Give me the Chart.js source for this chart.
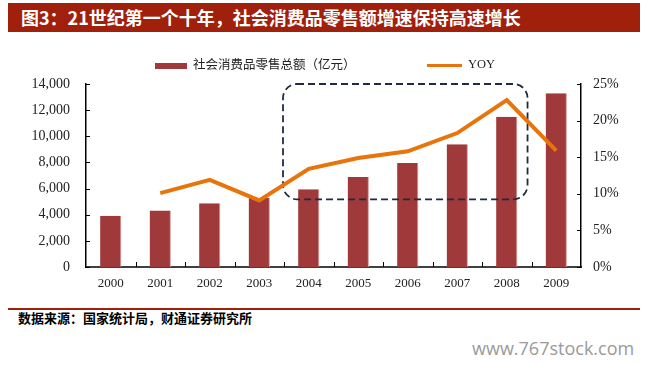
<!DOCTYPE html>
<html>
<head>
<meta charset="utf-8">
<script src="https://cdn.jsdelivr.net/npm/chart.js@4.4.1/dist/chart.umd.min.js"></script>
<style>
  body { margin: 0; width: 647px; height: 365px; background: #fff; position: relative; overflow: hidden; font-family: "Noto Sans CJK SC", sans-serif; }
  #title { position: absolute; left: 8px; top: 3px; width: 632px; height: 29px; background: #a0200c; color: #fff; font-weight: bold; font-size: 18px; line-height: 29px; padding-left: 13px; box-sizing: border-box; white-space: nowrap; }
  #wrap { position: absolute; left: 0; top: 0; width: 647px; height: 300px; }
  .item { position: absolute; top: 54px; height: 20px; line-height: 20px; font-size: 12.5px; color: #222; white-space: nowrap; }
  .sw { display: inline-block; vertical-align: middle; margin-right: 6px; }
  #rule { position: absolute; left: 8px; top: 308px; width: 632px; height: 2px; background: #a0200c; }
  #source { position: absolute; left: 18px; top: 310px; font-size: 13px; font-weight: bold; color: #000; line-height: 16px; }
  #mark { position: absolute; left: 472px; top: 336px; font-family: "Open Sans", sans-serif; font-size: 18px; color: #9a9a9a; }
</style>
</head>
<body>
<div id="title">图3：21世纪第一个十年，社会消费品零售额增速保持高速增长</div>
<div id="wrap"><canvas id="chart"></canvas></div>
<div id="legend"></div>
<div id="rule"></div>
<div id="source">数据来源：国家统计局，财通证券研究所</div>
<div id="mark">www.767stock.com</div>

<script>
const years = ["2000", "2001", "2002", "2003", "2004", "2005", "2006", "2007", "2008", "2009"];
const retailSales = [3920, 4320, 4880, 5270, 5950, 6880, 7950, 9390, 11490, 13300]; // 亿元
const yoy = [null, 10.1, 11.9, 9.1, 13.4, 14.9, 15.8, 18.3, 22.8, 15.9]; // %

const salesLabel = "社会消费品零售总额（亿元）";
const yoyLabel = "YOY";

// dashed highlight box, in data units (category index / right axis %)
const boxFrom = 3.48;
const boxTo = 8.42;
const boxTop = 25;
const boxBottom = 9.25;

const barColor = "#a0393a";
const lineColor = "#e8740c";
const xFont = { family: "Liberation Serif", size: 13 };
const yFont = { family: "Liberation Serif", size: 14 };

// small tick marks pointing into the plot
const innerTicks = {
  id: "innerTicks",
  afterDraw(chart) {
    const { ctx, chartArea, scales } = chart;
    ctx.save();
    ctx.strokeStyle = "#000";
    ctx.lineWidth = 1;
    scales.y.ticks.forEach((t) => {
      const py = Math.round(scales.y.getPixelForValue(t.value)) + 0.5;
      ctx.beginPath();
      ctx.moveTo(chartArea.left, py);
      ctx.lineTo(chartArea.left + 4, py);
      ctx.stroke();
    });
    scales.y1.ticks.forEach((t) => {
      const py = Math.round(scales.y1.getPixelForValue(t.value)) + 0.5;
      ctx.beginPath();
      ctx.moveTo(chartArea.right, py);
      ctx.lineTo(chartArea.right - 4, py);
      ctx.stroke();
    });
    for (let i = 0; i < years.length - 1; i++) {
      const px = Math.round(scales.x.getPixelForValue(i + 0.5)) + 0.5;
      ctx.beginPath();
      ctx.moveTo(px, chartArea.bottom);
      ctx.lineTo(px, chartArea.bottom - 5);
      ctx.stroke();
    }
    ctx.restore();
  }
};

// dashed rounded box drawn over the bars, under the line
const focusBox = {
  id: "focusBox",
  afterDatasetDraw(chart, args) {
    if (args.index !== 0) return;
    const { ctx, scales } = chart;
    const x1 = scales.x.getPixelForValue(boxFrom);
    const x2 = scales.x.getPixelForValue(boxTo);
    const y1 = scales.y1.getPixelForValue(boxTop);
    const y2 = scales.y1.getPixelForValue(boxBottom);
    ctx.save();
    ctx.setLineDash([7, 4]);
    ctx.lineWidth = 1.8;
    ctx.strokeStyle = "#1f2b3e";
    ctx.beginPath();
    ctx.roundRect(x1, y1, x2 - x1, y2 - y1, 14);
    ctx.stroke();
    ctx.restore();
  }
};

const chart = new Chart(document.getElementById("chart"), {
  type: "bar",
  data: {
    labels: years,
    datasets: [
      {
        type: "bar",
        label: salesLabel,
        data: retailSales,
        yAxisID: "y",
        backgroundColor: barColor,
        borderColor: "#d49a9a",
        borderWidth: { right: 1, top: 0, left: 0, bottom: 0 },
        borderSkipped: false,
        categoryPercentage: 1,
        barPercentage: 0.43,
        order: 1
      },
      {
        type: "line",
        label: yoyLabel,
        data: yoy,
        yAxisID: "y1",
        borderColor: lineColor,
        backgroundColor: lineColor,
        borderWidth: 4,
        pointRadius: 0,
        tension: 0,
        order: 0
      }
    ]
  },
  options: {
    responsive: true,
    maintainAspectRatio: false,
    animation: false,
    layout: { padding: { top: 84, bottom: 0, left: 0, right: 0 } },
    plugins: {
      legend: { display: false },
      tooltip: { enabled: false }
    },
    scales: {
      x: {
        grid: { display: false, drawTicks: false },
        border: { display: true, color: "#404040", width: 2 },
        ticks: { font: xFont, color: "#222", padding: 9 },
        afterFit(s) { s.height = 33; }
      },
      y: {
        position: "left",
        min: 0,
        max: 14000,
        grid: { display: false, drawTicks: false },
        border: { display: true, color: "#000", width: 1.5 },
        ticks: {
          stepSize: 2000,
          padding: 16,
          font: yFont,
          color: "#222",
          callback: (v) => v.toLocaleString("en-US")
        },
        afterFit(s) { s.width = 86; }
      },
      y1: {
        position: "right",
        min: 0,
        max: 25,
        grid: { display: false, drawTicks: false },
        border: { display: true, color: "#000", width: 1.5 },
        ticks: {
          stepSize: 5,
          padding: 12,
          font: yFont,
          color: "#222",
          callback: (v) => v + "%"
        },
        afterFit(s) { s.width = 66; }
      }
    }
  },
  plugins: [focusBox, innerTicks]
});

// legend as html, built from the datasets
const legendLefts = [155, 427];
let legendHtml = "";
chart.data.datasets.forEach((ds, i) => {
  const isLine = ds.type === "line";
  const sw = isLine
    ? `<span class="sw" style="width:35px;height:3px;background:${ds.borderColor}"></span>`
    : `<span class="sw" style="width:32px;height:6px;background:${ds.backgroundColor}"></span>`;
  const font = isLine ? "font-family:'Liberation Serif';" : "";
  legendHtml += `<div class="item" style="left:${legendLefts[i]}px;${font}">${sw}${ds.label}</div>`;
});
document.getElementById("legend").innerHTML = legendHtml;
</script>
</body>
</html>
